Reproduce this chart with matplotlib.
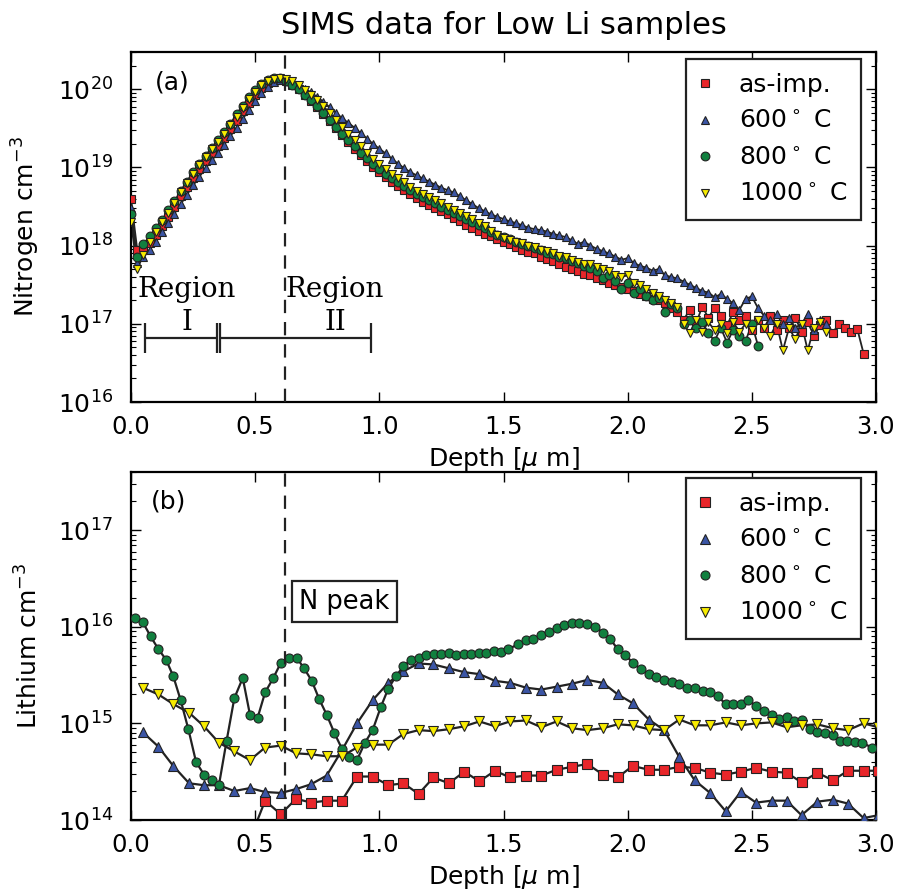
import numpy as np
import matplotlib
matplotlib.use("Agg")
import matplotlib.pyplot as plt

# ---------------- data ----------------
step_n = 0.025  # depth spacing of the nitrogen SIMS profiles [um]

n_asimp_log = [18.60, 17.95, 17.98, 18.04, 18.13, 18.25, 18.37, 18.50, 18.63, 18.75,
               18.87, 18.98, 19.08, 19.18, 19.28, 19.38, 19.49, 19.60, 19.72, 19.83,
               19.93, 20.02, 20.08, 20.12, 20.13, 20.11, 20.06, 20.00, 19.93, 19.85,
               19.77, 19.68, 19.59, 19.50, 19.41, 19.32, 19.24, 19.16, 19.08, 19.01,
               18.94, 18.88, 18.82, 18.76, 18.71, 18.66, 18.61, 18.56, 18.52, 18.48,
               18.44, 18.40, 18.35, 18.31, 18.27, 18.23, 18.19, 18.15, 18.12, 18.09,
               18.05, 18.02, 17.98, 17.95, 17.92, 17.90, 17.86, 17.83, 17.80, 17.76,
               17.73, 17.70, 17.67, 17.64, 17.62, 17.58, 17.56, 17.52, 17.50, 17.47,
               17.44, 17.42, 17.38, 17.36, 17.32, 17.30, 17.26, 17.20, 17.15, 17.05,
               17.18, 17.00, 17.22, 17.08, 17.20, 17.10, 16.98, 17.15, 17.05, 17.10,
               16.92, 17.05, 16.95, 17.10, 16.92, 17.05, 16.95, 17.08, 16.90, 17.02,
               16.85, 16.98, 17.05, 16.88, 17.00, 16.95, 16.90, 16.93, 16.62]

n_600_log = [18.48, 17.78, 17.85, 17.95, 18.05, 18.17, 18.29, 18.41, 18.53, 18.65,
             18.77, 18.88, 18.99, 19.09, 19.19, 19.29, 19.40, 19.51, 19.62, 19.74,
             19.85, 19.95, 20.03, 20.09, 20.12, 20.12, 20.10, 20.06, 20.01, 19.96,
             19.90, 19.84, 19.77, 19.70, 19.63, 19.57, 19.51, 19.44, 19.37, 19.30,
             19.24, 19.18, 19.11, 19.05, 18.99, 18.94, 18.90, 18.86, 18.82, 18.78,
             18.74, 18.71, 18.68, 18.63, 18.58, 18.53, 18.48, 18.44, 18.40, 18.37,
             18.34, 18.31, 18.29, 18.26, 18.23, 18.21, 18.20, 18.18, 18.15, 18.13,
             18.11, 18.07, 18.02, 18.05, 18.00, 17.96, 17.93, 17.90, 17.86, 17.82,
             17.84, 17.78, 17.74, 17.72, 17.68, 17.70, 17.62, 17.60, 17.58, 17.54,
             17.50, 17.46, 17.42, 17.40, 17.34, 17.38, 17.32, 17.26, 17.18, 17.32,
             17.35, 17.20, 17.10, 17.05, 17.12, 17.00, 17.08, 16.95, 17.00, 17.12,
             16.92, 17.05, 17.00]

n_800_log = [18.40, 17.85, 18.02, 18.12, 18.22, 18.33, 18.45, 18.57, 18.70, 18.82,
             18.94, 19.05, 19.15, 19.25, 19.35, 19.45, 19.56, 19.68, 19.79, 19.90,
             19.99, 20.07, 20.12, 20.14, 20.14, 20.11, 20.06, 20.00, 19.93, 19.86,
             19.78, 19.70, 19.61, 19.52, 19.43, 19.35, 19.27, 19.19, 19.12, 19.05,
             18.98, 18.92, 18.86, 18.81, 18.76, 18.71, 18.66, 18.62, 18.58, 18.54,
             18.50, 18.46, 18.42, 18.38, 18.34, 18.30, 18.26, 18.22, 18.18, 18.14,
             18.11, 18.08, 18.05, 18.02, 17.99, 17.97, 17.94, 17.91, 17.89, 17.86,
             17.84, 17.81, 17.78, 17.74, 17.71, 17.68, 17.58, 17.62, 17.55, 17.45,
             17.52, 17.40, 17.45, 17.35, 17.30, 17.33, 17.15, 17.25, 17.20, 17.00,
             17.05, 16.95, 17.02, 16.88, 16.78, 16.95, 16.76, 16.92, 16.85, 16.78,
             17.00, 16.72]

n_1000_log = [18.30, 17.70, 17.88, 18.05, 18.18, 18.30, 18.42, 18.55, 18.68, 18.80,
              18.92, 19.03, 19.13, 19.23, 19.33, 19.43, 19.54, 19.65, 19.76, 19.87,
              19.97, 20.05, 20.10, 20.13, 20.14, 20.13, 20.10, 20.05, 19.99, 19.93,
              19.86, 19.78, 19.70, 19.61, 19.52, 19.43, 19.35, 19.27, 19.19, 19.11,
              19.04, 18.98, 18.92, 18.86, 18.81, 18.75, 18.70, 18.66, 18.62, 18.58,
              18.54, 18.50, 18.46, 18.42, 18.38, 18.34, 18.29, 18.25, 18.19, 18.14,
              18.10, 18.07, 18.05, 18.03, 18.00, 17.98, 17.95, 17.93, 17.90, 17.87,
              17.85, 17.82, 17.79, 17.77, 17.76, 17.73, 17.70, 17.68, 17.63, 17.60,
              17.62, 17.52, 17.50, 17.45, 17.40, 17.35, 17.30, 17.26, 17.22, 17.00,
              16.88, 17.05, 16.90, 17.02, 16.92, 17.00, 16.88, 17.02, 16.90, 17.00,
              16.92, 17.05, 16.95, 16.85, 17.00, 16.66, 16.95, 16.80, 17.00, 16.66,
              16.95, 17.02, 16.90]

# lithium profiles
li_x = [0.047, 0.11, 0.17, 0.234, 0.294, 0.354, 0.416, 0.479, 0.54, 0.603,
        0.665, 0.725, 0.788, 0.849, 0.91, 0.973, 1.036, 1.097, 1.158, 1.218,
        1.28, 1.342, 1.403, 1.466, 1.526, 1.59, 1.652, 1.714, 1.775, 1.838,
        1.90, 1.96, 2.02, 2.085, 2.147, 2.208, 2.27, 2.332, 2.395, 2.455,
        2.517, 2.58, 2.64, 2.70, 2.764, 2.826, 2.887, 2.95, 3.01]

li_600_log = [14.91, 14.76, 14.56, 14.38, 14.36, 14.36, 14.30, 14.33, 14.29, 14.28,
              14.32, 14.37, 14.46, 14.72, 15.00, 15.24, 15.42, 15.54, 15.62, 15.61,
              15.57, 15.53, 15.51, 15.44, 15.42, 15.37, 15.35, 15.38, 15.41, 15.45,
              15.42, 15.30, 15.21, 15.04, 14.93, 14.65, 14.41, 14.28, 14.09, 14.29,
              14.18, 14.20, 14.20, 14.05, 14.19, 14.21, 14.17, 14.02, 14.05]

li_1000_log = [15.37, 15.30, 15.20, 15.11, 14.97, 14.80, 14.71, 14.62, 14.75, 14.77,
               14.69, 14.68, 14.66, 14.66, 14.75, 14.78, 14.78, 14.89, 14.93, 14.92,
               14.94, 14.97, 15.02, 14.97, 15.02, 15.03, 14.96, 15.02, 14.95, 14.93,
               14.95, 14.99, 14.98, 14.94, 14.93, 15.04, 14.98, 14.98, 15.01, 14.98,
               15.00, 15.01, 14.96, 14.98, 14.99, 14.95, 14.93, 15.00, 14.96]

li_asimp_x = li_x[7:]
li_asimp_log = [13.80, 14.20, 14.06, 14.22, 14.18, 14.20, 14.20, 14.45, 14.45, 14.36,
                14.38, 14.27, 14.44, 14.38, 14.50, 14.40, 14.51, 14.44, 14.46, 14.46,
                14.52, 14.55, 14.58, 14.47, 14.44, 14.56, 14.52, 14.52, 14.55, 14.54,
                14.49, 14.47, 14.50, 14.54, 14.50, 14.49, 14.39, 14.49, 14.41, 14.51,
                14.51, 14.51]

li_800_x = [0.016, 0.047, 0.079, 0.11, 0.141, 0.17, 0.2, 0.231, 0.262, 0.294,
            0.325, 0.354, 0.385, 0.416, 0.45, 0.479, 0.51, 0.54, 0.573, 0.604,
            0.636, 0.667, 0.697, 0.728, 0.758, 0.788, 0.819, 0.849, 0.879, 0.91,
            0.942, 0.973, 1.006, 1.036, 1.067, 1.097, 1.128, 1.158, 1.188, 1.22,
            1.25, 1.28, 1.31, 1.34, 1.37, 1.40, 1.43, 1.46, 1.49, 1.52,
            1.56, 1.59, 1.62, 1.652, 1.683, 1.714, 1.745, 1.775, 1.806, 1.838,
            1.869, 1.90, 1.93, 1.96, 1.99, 2.023, 2.054, 2.085, 2.114, 2.147,
            2.178, 2.208, 2.24, 2.27, 2.302, 2.33, 2.363, 2.395, 2.426, 2.455,
            2.486, 2.517, 2.55, 2.58, 2.61, 2.64, 2.67, 2.70, 2.735, 2.764,
            2.795, 2.826, 2.855, 2.885, 2.915, 2.944, 2.983]
li_800_log = [16.09, 16.05, 15.90, 15.77, 15.66, 15.49, 15.24, 14.94, 14.60, 14.47,
              14.41, 14.36, 14.82, 15.26, 15.47, 15.09, 15.06, 15.32, 15.47, 15.63,
              15.68, 15.68, 15.57, 15.44, 15.25, 15.09, 14.90, 14.74, 14.65, 14.62,
              14.80, 14.93, 15.17, 15.36, 15.49, 15.59, 15.66, 15.68, 15.71, 15.72,
              15.72, 15.73, 15.71, 15.72, 15.72, 15.73, 15.73, 15.75, 15.74, 15.77,
              15.82, 15.86, 15.87, 15.92, 15.95, 15.99, 16.02, 16.04, 16.04, 16.03,
              16.00, 15.94, 15.87, 15.77, 15.71, 15.62, 15.56, 15.51, 15.48, 15.45,
              15.43, 15.41, 15.37, 15.37, 15.34, 15.33, 15.28, 15.20, 15.20, 15.20,
              15.24, 15.18, 15.13, 15.09, 15.05, 15.07, 15.02, 15.03, 14.94, 14.91,
              14.90, 14.88, 14.82, 14.82, 14.81, 14.80, 14.75]

labels = ["as-imp.", r"600$^\circ$ C", r"800$^\circ$ C", r"1000$^\circ$ C"]
markers = ["s", "^", "o", "v"]
colors = ["#e8262a", "#3b55a5", "#11803f", "#f8ec00"]
xticks = [0.0, 0.5, 1.0, 1.5, 2.0, 2.5, 3.0]
n_peak = 0.62
region1 = (0.056, 0.345)
region2 = (0.357, 0.967)
region_y = 6.5e16

# ---------------- style ----------------
plt.rcParams.update({
    "font.family": ["DejaVu Sans"],
    "xtick.direction": "in", "ytick.direction": "in",
    "xtick.top": True, "ytick.right": True,
    "xtick.major.size": 7, "ytick.major.size": 7,
    "xtick.minor.size": 3.5, "ytick.minor.size": 3.5,
    "xtick.major.width": 1.0, "ytick.major.width": 1.0,
    "xtick.minor.width": 0.8, "ytick.minor.width": 0.8,
    "axes.linewidth": 1.6,
    "xtick.labelsize": 17.5, "ytick.labelsize": 18,
    "xtick.major.pad": 9, "ytick.major.pad": 13,
})

fig = plt.figure(figsize=(9.01, 8.94), dpi=100)
W, H = 901.0, 894.0
ax1 = fig.add_axes([131 / W, 1 - 402 / H, 745 / W, 350 / H])
ax2 = fig.add_axes([131 / W, 1 - 820 / H, 745 / W, 348 / H])

leg_kw = dict(loc="upper right", borderaxespad=0, numpoints=1, fontsize=18,
              handlelength=0.4, handletextpad=1.15, labelspacing=0.5,
              borderpad=0.55, fancybox=False, edgecolor="#222222", framealpha=1)

# ---- top: nitrogen ----
n_series = [n_asimp_log, n_600_log, n_800_log, n_1000_log]
for vals, lab, mk, col in zip(n_series, labels, markers, colors):
    x = step_n * np.arange(len(vals))
    y = 10.0 ** np.array(vals)
    ax1.plot(x, y, "-", color="#222222", lw=1.3, zorder=2)
    ax1.plot(x, y, ls="none", marker=mk, ms=6.3, mfc=col, mec="#222222",
             mew=0.8, label=lab, zorder=3)

ax1.set_yscale("log")
ax1.set_xlim(0, 3.0)
ax1.set_ylim(1e16, 3e20)
ax1.set_xticks(xticks)
ax1.set_xticklabels([f"{t:.1f}" for t in xticks])
ax1.axvline(n_peak, color="#222222", lw=1.6, ls=(0, (6, 4)), zorder=4)
ax1.set_xlabel(r"Depth [$\mu$ m]", fontsize=18, labelpad=5)
ax1.set_ylabel(r"Nitrogen cm$^{-3}$", fontsize=18, labelpad=11)
ax1.text(0.032, 0.914, "(a)", transform=ax1.transAxes, fontsize=18,
         ha="left", va="center")

# regions
ax1.errorbar([(region1[0] + region1[1]) / 2], [region_y],
             xerr=[(region1[1] - region1[0]) / 2], fmt="none",
             ecolor="#222222", elinewidth=1.6, capsize=10.5, capthick=1.6)
ax1.errorbar([(region2[0] + region2[1]) / 2], [region_y],
             xerr=[(region2[1] - region2[0]) / 2], fmt="none",
             ecolor="#222222", elinewidth=1.6, capsize=10.5, capthick=1.6)
ax1.text(0.2255, 10 ** 17.23, "Region\nI", family="DejaVu Serif", fontsize=20,
         ha="center", va="center", multialignment="center", linespacing=1.3)
ax1.text(0.822, 10 ** 17.23, "Region\nII", family="DejaVu Serif", fontsize=20,
         ha="center", va="center", multialignment="center", linespacing=1.3)

leg1 = ax1.legend(bbox_to_anchor=(730 / 745, (402 - 59) / 350), **leg_kw)
leg1.get_frame().set_linewidth(1.6)

# ---- bottom: lithium ----
li_sets = [(li_asimp_x, li_asimp_log), (li_x, li_600_log),
           (li_800_x, li_800_log), (li_x, li_1000_log)]
for (xs, vals), lab, mk, col in zip(li_sets, labels, markers, colors):
    y = 10.0 ** np.array(vals)
    ax2.plot(xs, y, "-", color="#222222", lw=1.6, zorder=2)
    ax2.plot(xs, y, ls="none", marker=mk, ms=6.5, mfc=col, mec="#222222",
             mew=0.8, label=lab, zorder=3)

ax2.set_yscale("log")
ax2.set_xlim(0, 3.0)
ax2.set_ylim(1e14, 4e17)
ax2.set_xticks(xticks)
ax2.set_xticklabels([f"{t:.1f}" for t in xticks])
ax2.axvline(n_peak, color="#222222", lw=1.6, ls=(0, (6, 4)), zorder=4)
ax2.set_xlabel(r"Depth [$\mu$ m]", fontsize=18, labelpad=5)
ax2.set_ylabel(r"Lithium cm$^{-3}$", fontsize=18, labelpad=11)
ax2.text(0.027, 0.914, "(b)", transform=ax2.transAxes, fontsize=18,
         ha="left", va="center")
ax2.text(0.678, 10 ** 16.26, "N peak", fontsize=18.5, ha="left", va="center",
         bbox=dict(boxstyle="square,pad=0.28", fc="white", ec="#222222", lw=1.6))

leg2 = ax2.legend(bbox_to_anchor=(730 / 745, (820 - 478) / 348), **leg_kw)
leg2.get_frame().set_linewidth(1.6)

fig.text(503.5 / W, 1 - 25 / H, "SIMS data for Low Li samples", fontsize=22,
         ha="center", va="center")

fig.savefig("out.png", dpi=100)
